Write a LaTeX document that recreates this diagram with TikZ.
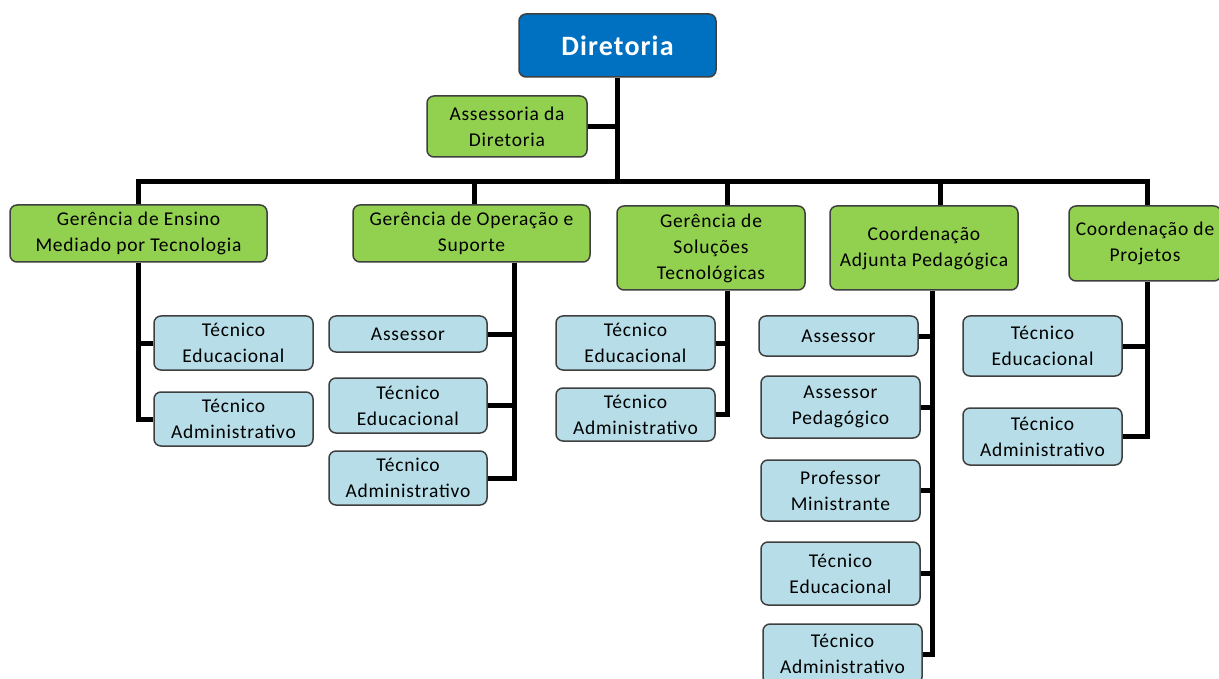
\documentclass[tikz,border=0pt]{standalone}
\usepackage{fontspec}
\setmainfont{Carlito}[LetterSpace=4]
\definecolor{dblue}{HTML}{0070C0}
\definecolor{lgreen}{HTML}{92D050}
\definecolor{lblue}{HTML}{B7DEE8}
\definecolor{boxline}{HTML}{3F3F3F}
\tikzset{
  box/.style={draw=boxline, line width=1.5pt, rounded corners=7pt, align=center, inner sep=1pt,
    font=\fontsize{19.5}{26}\selectfont},
  lvl/.style={box, fill=lgreen},
  leaf/.style={box, fill=lblue},
  conn/.style={line width=5pt, draw=black, line join=miter}
}
\begin{document}
\begin{tikzpicture}[x=1pt,y=-1pt]
\useasboundingbox (0,0) rectangle (1219,679);
\clip (0,0) rectangle (1219,679);
% top
\node[box, fill=dblue, text=white, font=\fontsize{28}{30}\selectfont\bfseries, minimum width=197, minimum height=63] (dir) at (617.5,45.5) {Diretoria};
\node[lvl, minimum width=160, minimum height=61] (ass) at (507,126.5) {Assessoria da\\Diretoria};
% level 2
\node[lvl, minimum width=257, minimum height=57] (g1) at (138.5,233.5) {Gerência de Ensino\\Mediado por Tecnologia};
\node[lvl, minimum width=237, minimum height=57] (g2) at (471.5,233.5) {Gerência de Operação e\\Suporte};
\node[lvl, minimum width=188, minimum height=84] (g3) at (711,248) {Gerência de\\Soluções\\Tecnológicas};
\node[lvl, minimum width=188, minimum height=84] (g4) at (924,248) {Coordenação\\Adjunta Pedagógica};
\node[lvl, minimum width=152, minimum height=75, inner sep=0pt] (g5) at (1145,243.5) {Coordenação de\\Projetos};
% leaves
\node[leaf, minimum width=159, minimum height=54] (c11) at (233.5,343) {Técnico\\Educacional};
\node[leaf, minimum width=159, minimum height=54] (c12) at (233.5,419) {Técnico\\Administrativo};
\node[leaf, minimum width=158, minimum height=36] (c21) at (408,334) {Assessor};
\node[leaf, minimum width=158, minimum height=55] (c22) at (408,405.5) {Técnico\\Educacional};
\node[leaf, minimum width=158, minimum height=54] (c23) at (408,478) {Técnico\\Administrativo};
\node[leaf, minimum width=159, minimum height=54] (c31) at (635.5,343) {Técnico\\Educacional};
\node[leaf, minimum width=159, minimum height=53] (c32) at (635.5,414.5) {Técnico\\Administrativo};
\node[leaf, minimum width=159, minimum height=40] (c41) at (838.5,336) {Assessor};
\node[leaf, minimum width=159, minimum height=62] (c42) at (840.5,407) {Assessor\\Pedagógico};
\node[leaf, minimum width=159, minimum height=61] (c43) at (840.5,490.5) {Professor\\Ministrante};
\node[leaf, minimum width=159, minimum height=63] (c44) at (840.5,573.5) {Técnico\\Educacional};
\node[leaf, minimum width=159, minimum height=60] (c45) at (842.5,654) {Técnico\\Administrativo};
\node[leaf, minimum width=159, minimum height=60] (c51) at (1042.5,346) {Técnico\\Educacional};
\node[leaf, minimum width=159, minimum height=57] (c52) at (1042.5,436.5) {Técnico\\Administrativo};
% trunk coordinates
\coordinate (j0) at (617.5,182);
\coordinate (b1) at (138.5,182);
\coordinate (b2) at (474,182);
\coordinate (b3) at (727,182);
\coordinate (b4) at (940,182);
\coordinate (b5) at (1147,182);
\coordinate (s2) at (514,0);
\coordinate (s3) at (727,0);
\coordinate (s4) at (932,0);
\coordinate (s5) at (1147,0);
% connectors
\draw[conn] (dir.south) -- (j0);
\draw[conn] (ass.east) -- (ass.east -| dir.south);
\draw[conn] (b1 |- g1.north) -- (b1) -- (b5) -- (b5 |- g5.north);
\draw[conn] (b2) -- (b2 |- g2.north);
\draw[conn] (b3) -- (b3 |- g3.north);
\draw[conn] (b4) -- (b4 |- g4.north);
% group 1
\draw[conn] (g1.south) |- (c12.west);
\draw[conn] (c11.west) -- (c11.west -| g1.south);
% group 2
\draw[conn] (g2.south -| s2) |- (c23.east);
\draw[conn] (c21.east) -- (c21.east -| s2);
\draw[conn] (c22.east) -- (c22.east -| s2);
% group 3
\draw[conn] (g3.south -| s3) |- (c32.east);
\draw[conn] (c31.east) -- (c31.east -| s3);
% group 4
\draw[conn] (g4.south -| s4) |- (c45.east);
\draw[conn] (c41.east) -- (c41.east -| s4);
\draw[conn] (c42.east) -- (c42.east -| s4);
\draw[conn] (c43.east) -- (c43.east -| s4);
\draw[conn] (c44.east) -- (c44.east -| s4);
% group 5
\draw[conn] (g5.south -| s5) |- (c52.east);
\draw[conn] (c51.east) -- (c51.east -| s5);
\end{tikzpicture}
\end{document}
